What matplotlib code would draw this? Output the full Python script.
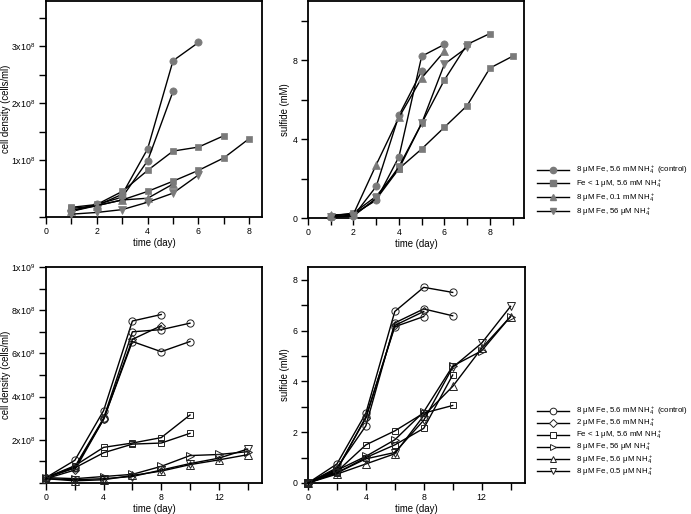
import matplotlib
matplotlib.use('Agg')
import matplotlib.pyplot as plt
from matplotlib.ticker import MultipleLocator, FixedLocator, FixedFormatter
from matplotlib.lines import Line2D

plt.rcParams['font.family'] = ['Liberation Sans', 'DejaVu Sans']
plt.rcParams['mathtext.default'] = 'regular'

# ---------------- data: top row (cell density in 1e8 cells/ml, sulfide in mM)
tl_circle_a_x = [1, 2, 3, 4, 5, 6]
tl_circle_a_y = [0.12, 0.20, 0.40, 1.20, 2.75, 3.07]
tl_circle_b_x = [1, 2, 3, 4, 5]
tl_circle_b_y = [0.10, 0.22, 0.35, 0.99, 2.21]
tl_square_a_x = [1, 2, 3, 4, 5, 6, 7]
tl_square_a_y = [0.17, 0.22, 0.45, 0.82, 1.16, 1.23, 1.43]
tl_square_b_x = [1, 2, 3, 4, 5, 6, 7, 8]
tl_square_b_y = [0.15, 0.20, 0.30, 0.45, 0.63, 0.82, 1.04, 1.38]
tl_tri_up_x = [1, 2, 3, 4, 5]
tl_tri_up_y = [0.10, 0.20, 0.30, 0.33, 0.58]
tl_tri_dn_x = [1, 2, 3, 4, 5, 6]
tl_tri_dn_y = [0.05, 0.08, 0.13, 0.26, 0.42, 0.74]

tr_circle_a_x = [1, 2, 3, 4, 5, 6]
tr_circle_a_y = [0.10, 0.20, 0.90, 3.10, 8.20, 8.80]
tr_circle_b_x = [1, 2, 3, 4, 5]
tr_circle_b_y = [0.05, 0.10, 1.60, 5.20, 7.45]
tr_square_a_x = [1, 2, 3, 4, 5, 6, 7, 8]
tr_square_a_y = [0.10, 0.25, 1.10, 2.50, 4.80, 7.00, 8.80, 9.35]
tr_square_b_x = [1, 2, 3, 4, 5, 6, 7, 8, 9]
tr_square_b_y = [0.05, 0.15, 0.95, 2.50, 3.50, 4.60, 5.70, 7.60, 8.20]
tr_tri_up_x = [1, 2, 3, 4, 5, 6]
tr_tri_up_y = [0.15, 0.20, 2.70, 5.10, 7.10, 8.45]
tr_tri_dn_x = [1, 2, 3, 4, 5, 6, 7]
tr_tri_dn_y = [0.05, 0.10, 1.00, 2.60, 4.80, 7.80, 8.65]

# ---------------- data: bottom row
bl_circle1_x = [0, 2, 4, 6, 8]
bl_circle1_y = [0.25, 1.05, 3.35, 7.50, 7.80]
bl_circle2_x = [0, 2, 4, 6, 8, 10]
bl_circle2_y = [0.25, 0.75, 3.00, 7.00, 7.10, 7.40]
bl_circle3_x = [0, 2, 4, 6, 8, 10]
bl_circle3_y = [0.25, 0.70, 2.95, 6.55, 6.08, 6.55]
bl_diamond_x = [0, 2, 4, 6, 8]
bl_diamond_y = [0.20, 0.60, 2.95, 6.65, 7.28]
bl_square_a_x = [0, 2, 4, 6, 8, 10]
bl_square_a_y = [0.25, 0.80, 1.65, 1.85, 2.10, 3.15]
bl_square_b_x = [0, 2, 4, 6, 8, 10]
bl_square_b_y = [0.25, 0.70, 1.40, 1.80, 1.85, 2.30]
bl_tri_rt_x = [0, 2, 4, 6, 8, 10, 12, 14]
bl_tri_rt_y = [0.25, 0.20, 0.30, 0.40, 0.77, 1.27, 1.32, 1.45]
bl_tri_up_x = [0, 2, 4, 6, 8, 10, 12, 14]
bl_tri_up_y = [0.20, 0.10, 0.15, 0.35, 0.55, 0.85, 1.07, 1.31]
bl_tri_dn_x = [0, 2, 4, 6, 8, 10, 12, 14]
bl_tri_dn_y = [0.20, 0.15, 0.20, 0.30, 0.60, 0.90, 1.15, 1.57]

br_circle1_x = [0, 2, 4, 6, 8, 10]
br_circle1_y = [0.0, 0.75, 2.75, 6.75, 7.70, 7.50]
br_circle2_x = [0, 2, 4, 6, 8, 10]
br_circle2_y = [0.0, 0.60, 2.25, 6.30, 6.85, 6.58]
br_circle3_x = [0, 2, 4, 6, 8]
br_circle3_y = [0.0, 0.50, 2.60, 6.15, 6.55]
br_diamond_x = [0, 2, 4, 6, 8]
br_diamond_y = [0.0, 0.55, 2.55, 6.20, 6.75]
br_square_a_x = [0, 2, 4, 6, 8, 10]
br_square_a_y = [0.0, 0.45, 1.50, 2.05, 2.75, 3.05]
br_square_b_x = [0, 2, 4, 6, 8, 10]
br_square_b_y = [0.0, 0.40, 1.00, 1.50, 2.15, 4.25]
br_tri_rt_x = [0, 2, 4, 6, 8, 10, 12, 14]
br_tri_rt_y = [0.0, 0.50, 1.05, 1.70, 2.80, 4.60, 5.20, 6.55]
br_tri_up_x = [0, 2, 4, 6, 8, 10, 12, 14]
br_tri_up_y = [0.0, 0.35, 0.75, 1.15, 2.65, 3.80, 5.30, 6.55]
br_tri_dn_x = [0, 2, 4, 6, 8, 10, 12, 14]
br_tri_dn_y = [0.0, 0.40, 0.95, 1.20, 2.47, 4.55, 5.50, 6.95]

top_labels = [r'8 μM Fe, 5.6 mM NH$_4^+$ (control)',
              r'Fe < 1 μM, 5.6 mM NH$_4^+$',
              r'8 μM Fe, 0.1 mM NH$_4^+$',
              r'8 μM Fe, 56 μM NH$_4^+$']
bottom_labels = [r'8 μM Fe, 5.6 mM NH$_4^+$ (control)',
                 r'2 μM Fe, 5.6 mM NH$_4^+$',
                 r'Fe < 1 μM, 5.6 mM NH$_4^+$',
                 r'8 μM Fe, 56 μM NH$_4^+$',
                 r'8 μM Fe, 5.6 μM NH$_4^+$',
                 r'8 μM Fe, 0.5 μM NH$_4^+$']

tl_ylabels = [r'1x10$^8$', r'2x10$^8$', r'3x10$^8$']
bl_ylabels = [r'2x10$^8$', r'4x10$^8$', r'6x10$^8$', r'8x10$^8$', r'1x10$^9$']

# ---------------- figure
W, H = 691, 514
fig = plt.figure(figsize=(W / 100, H / 100), dpi=100)
fig.patch.set_facecolor('white')

def px_axes(l, t, r, b):
    return fig.add_axes([l / W, 1 - b / H, (r - l) / W, (b - t) / H])

ax_tl = px_axes(46, 1, 262, 217)
ax_tr = px_axes(308, 1, 524, 218)
ax_bl = px_axes(46, 267, 262, 483)
ax_br = px_axes(308, 267, 525, 483)

GREY = '#7a7a7a'
LW = 1.0
TFS = 6.3
LFS = 6.9

def filled(ax, x, y, m, ms=5.2):
    ax.plot(x, y, '-', color='black', lw=LW, marker=m, ms=ms,
            mfc=GREY, mec=GREY, mew=0.5, clip_on=False, zorder=3)

def hollow(ax, x, y, m, ms=5.2):
    ax.plot(x, y, '-', color='black', lw=LW, marker=m, ms=ms,
            mfc='none', mec='#222222', mew=0.7, clip_on=False, zorder=3)

def style(ax):
    for s in ax.spines.values():
        s.set_linewidth(1.3)
    ax.tick_params(which='both', direction='out', length=5, width=1.0,
                   labelsize=TFS, pad=2.5, top=False, right=False)

# top-left
filled(ax_tl, tl_circle_a_x, tl_circle_a_y, 'o')
filled(ax_tl, tl_circle_b_x, tl_circle_b_y, 'o')
filled(ax_tl, tl_square_a_x, tl_square_a_y, 's', 4.8)
filled(ax_tl, tl_square_b_x, tl_square_b_y, 's', 4.8)
filled(ax_tl, tl_tri_up_x, tl_tri_up_y, '^')
filled(ax_tl, tl_tri_dn_x, tl_tri_dn_y, 'v')
ax_tl.set_xlim(0, 8.5)
ax_tl.set_ylim(0, 3.8)
ax_tl.xaxis.set_major_locator(MultipleLocator(2))
ax_tl.xaxis.set_minor_locator(MultipleLocator(1))
ax_tl.yaxis.set_major_locator(FixedLocator([1, 2, 3]))
ax_tl.yaxis.set_major_formatter(FixedFormatter(tl_ylabels))
ax_tl.yaxis.set_minor_locator(MultipleLocator(0.5))
ax_tl.set_ylabel('cell density (cells/ml)', fontsize=LFS)
ax_tl.yaxis.set_label_coords((11 - 46) / 216, 0.5)
ax_tl.set_xlabel('time (day)', fontsize=LFS, labelpad=1)
style(ax_tl)

# top-right
filled(ax_tr, tr_circle_a_x, tr_circle_a_y, 'o')
filled(ax_tr, tr_circle_b_x, tr_circle_b_y, 'o')
filled(ax_tr, tr_square_a_x, tr_square_a_y, 's', 4.8)
filled(ax_tr, tr_square_b_x, tr_square_b_y, 's', 4.8)
filled(ax_tr, tr_tri_up_x, tr_tri_up_y, '^')
filled(ax_tr, tr_tri_dn_x, tr_tri_dn_y, 'v')
ax_tr.set_xlim(0, 9.5)
ax_tr.set_ylim(0, 11)
ax_tr.xaxis.set_major_locator(MultipleLocator(2))
ax_tr.xaxis.set_minor_locator(MultipleLocator(1))
ax_tr.yaxis.set_major_locator(MultipleLocator(4))
ax_tr.yaxis.set_minor_locator(MultipleLocator(2))
ax_tr.set_ylabel('sulfide (mM)', fontsize=LFS)
ax_tr.yaxis.set_label_coords((290 - 308) / 216, 0.5)
ax_tr.set_xlabel('time (day)', fontsize=LFS, labelpad=1)
style(ax_tr)

# bottom-left
hollow(ax_bl, bl_circle1_x, bl_circle1_y, 'o')
hollow(ax_bl, bl_circle2_x, bl_circle2_y, 'o')
hollow(ax_bl, bl_circle3_x, bl_circle3_y, 'o')
hollow(ax_bl, bl_diamond_x, bl_diamond_y, 'D', 4.2)
hollow(ax_bl, bl_square_a_x, bl_square_a_y, 's', 4.8)
hollow(ax_bl, bl_square_b_x, bl_square_b_y, 's', 4.8)
hollow(ax_bl, bl_tri_rt_x, bl_tri_rt_y, '>')
hollow(ax_bl, bl_tri_up_x, bl_tri_up_y, '^')
hollow(ax_bl, bl_tri_dn_x, bl_tri_dn_y, 'v')
ax_bl.set_xlim(0, 15)
ax_bl.set_ylim(0, 10)
ax_bl.xaxis.set_major_locator(MultipleLocator(4))
ax_bl.xaxis.set_minor_locator(MultipleLocator(2))
ax_bl.yaxis.set_major_locator(FixedLocator([2, 4, 6, 8, 10]))
ax_bl.yaxis.set_major_formatter(FixedFormatter(bl_ylabels))
ax_bl.yaxis.set_minor_locator(MultipleLocator(1))
ax_bl.set_ylabel('cell density (cells/ml)', fontsize=LFS)
ax_bl.yaxis.set_label_coords((11 - 46) / 216, 0.5)
ax_bl.set_xlabel('time (day)', fontsize=LFS, labelpad=1)
style(ax_bl)

# bottom-right
hollow(ax_br, br_circle1_x, br_circle1_y, 'o')
hollow(ax_br, br_circle2_x, br_circle2_y, 'o')
hollow(ax_br, br_circle3_x, br_circle3_y, 'o')
hollow(ax_br, br_diamond_x, br_diamond_y, 'D', 4.2)
hollow(ax_br, br_square_a_x, br_square_a_y, 's', 4.8)
hollow(ax_br, br_square_b_x, br_square_b_y, 's', 4.8)
hollow(ax_br, br_tri_rt_x, br_tri_rt_y, '>')
hollow(ax_br, br_tri_up_x, br_tri_up_y, '^')
hollow(ax_br, br_tri_dn_x, br_tri_dn_y, 'v')
ax_br.set_xlim(0, 15)
ax_br.set_ylim(0, 8.5)
ax_br.xaxis.set_major_locator(MultipleLocator(4))
ax_br.xaxis.set_minor_locator(MultipleLocator(2))
ax_br.yaxis.set_major_locator(MultipleLocator(2))
ax_br.yaxis.set_minor_locator(MultipleLocator(1))
ax_br.set_ylabel('sulfide (mM)', fontsize=LFS)
ax_br.yaxis.set_label_coords((290 - 308) / 217, 0.5)
ax_br.set_xlabel('time (day)', fontsize=LFS, labelpad=1)
style(ax_br)

# legends
LEGFS = 5.7
top_markers = ['o', 's', '^', 'v']
top_handles = [Line2D([], [], color='black', lw=LW, marker=m, ms=4.5,
                      mfc=GREY, mec=GREY) for m in top_markers]
fig.legend(top_handles, top_labels, loc='upper left',
           bbox_to_anchor=(537 / W, 1 - 164 / H), frameon=False,
           fontsize=LEGFS, handlelength=4.1, handletextpad=0.8,
           labelspacing=0.2, borderpad=0, borderaxespad=0)

bot_markers = ['o', 'D', 's', '>', '^', 'v']
bot_handles = [Line2D([], [], color='black', lw=LW, marker=m,
                      ms=(3.8 if m == 'D' else 4.8),
                      mfc='white', mec='#222222', mew=0.7) for m in bot_markers]
fig.legend(bot_handles, bottom_labels, loc='upper left',
           bbox_to_anchor=(537 / W, 1 - 405 / H), frameon=False,
           fontsize=LEGFS, handlelength=4.1, handletextpad=0.8,
           labelspacing=-0.03, borderpad=0, borderaxespad=0)

fig.savefig('out.png', dpi=100, facecolor='white')
